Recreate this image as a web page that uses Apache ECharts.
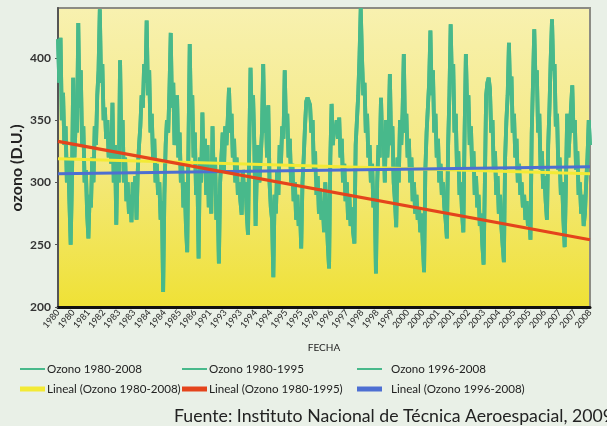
<!DOCTYPE html>
<html><head><meta charset="utf-8">
<script src="https://cdn.jsdelivr.net/npm/echarts@6/dist/echarts.min.js"></script>
<style>html,body{margin:0;padding:0;background:#e9f0e7;}#c{width:607px;height:426px;}</style>
</head><body><div id="c"></div>
<script>
// x-axis tick labels (one every 12 data points)
const tickLabels = ['1980','1980','1981','1982','1983','1983','1984','1984','1985','1986',
  '1991','1993','1993','1994','1994','1995','1995','1996','1996','1997',
  '1998','1998','1999','2000','2000','2001','2001','2002','2003','2004',
  '2005','2005','2006','2007','2007','2008'];
const pointsPerTick = 12;

// Ozone values (D.U.)
const ozone = [
  415,380,416,350,372,330,345,300,320,285,
  250,300,384,320,350,340,428,360,390,330,
  345,300,310,275,255,290,280,320,300,345,
  330,370,390,439,380,395,350,360,335,350,
  320,340,315,364,300,330,266,320,300,398,
  330,350,300,320,285,300,275,290,268,300,
  285,305,270,310,330,345,370,360,395,380,
  430,370,390,340,355,320,335,300,315,290,
  300,270,285,212,290,330,350,340,375,420,
  360,380,330,350,370,320,340,300,315,280,
  300,265,244,330,411,350,370,320,340,290,
  310,239,320,300,356,310,335,290,330,280,
  300,275,345,300,320,270,290,235,300,320,
  340,310,345,330,350,376,340,355,320,335,
  300,320,290,300,285,274,310,290,300,275,
  258,330,392,350,370,330,265,310,330,300,
  320,340,395,340,360,320,362,300,280,270,
  224,290,275,310,290,330,315,345,335,390,
  345,355,320,335,300,315,285,300,270,290,
  265,280,247,300,320,345,365,368,368,362,
  340,350,310,325,290,305,275,295,270,285,
  260,300,275,250,231,320,363,330,345,340,
  350,335,352,320,335,300,315,285,300,270,
  290,265,280,260,251,330,350,370,400,440,
  400,370,380,340,355,320,330,300,315,280,
  290,227,300,330,320,368,330,340,300,350,
  320,340,387,330,345,300,285,264,320,300,
  350,330,355,403,340,355,320,335,300,320,
  285,300,275,290,270,280,260,275,250,228,
  310,340,360,380,422,370,390,340,355,320,
  335,300,315,290,300,280,270,255,330,370,
  427,380,395,340,355,310,325,290,300,275,
  260,340,403,360,370,330,345,310,325,290,
  305,280,290,265,275,250,234,300,370,380,
  384,375,340,350,310,325,290,305,275,290,
  265,250,236,320,350,370,412,370,385,340,
  355,320,335,300,315,290,300,280,290,270,
  285,265,275,254,340,380,423,380,390,340,
  355,310,325,295,305,285,270,330,360,400,
  431,390,395,345,355,310,320,290,300,270,
  248,300,355,320,340,360,378,340,350,310,
  325,290,300,275,290,265,275,300,320,350,
  330
];
const split1996 = 204; // first data point of 1996

// Linear trend lines: [value at start, value at end]
const trend1980_2008 = [319, 307];
const trend1980_1995 = [333, 254];
const trend1996_2008 = [307, 312.5];

const categories = ozone.map((v, i) => 'p' + i);
const last = ozone.length - 1;
const oz8095 = ozone.map((v, i) => i < split1996 ? v : null);
const oz9608 = ozone.map((v, i) => i >= split1996 ? v : null);

const GREEN = '#48b98b', YELLOW = '#f3ea35', RED = '#e4441c', BLUE = '#4d6fd2';
const TXT = '#222';
const FONT = 'Lato, sans-serif';

const chart = echarts.init(document.getElementById('c'), null, {renderer: 'canvas'});

function lineSeries(name, data, color, width, z) {
  return {name, type: 'line', data, showSymbol: false, symbol: 'none', z,
    lineStyle: {color, width}, itemStyle: {color}, connectNulls: false, animation: false};
}
function legendAt(name, left, top, h, textShift) {
  return {data: [name], left, top, icon: 'rect', itemWidth: 25, itemHeight: h,
    selectedMode: false, padding: 0,
    textStyle: {color: TXT, fontSize: 11.6, fontFamily: FONT, padding: [0, 0, 0, textShift]}};
}

chart.setOption({
  backgroundColor: '#e9f0e7',
  animation: false,
  grid: {left: 58, right: 17, top: 8, bottom: 119, show: true,
    borderColor: '#8c8c84', borderWidth: 2,
    backgroundColor: new echarts.graphic.LinearGradient(0, 0, 0, 1, [
      {offset: 0, color: '#f8f1b0'}, {offset: 0.5, color: '#f4e982'}, {offset: 1, color: '#efe135'}])},
  xAxis: {
    type: 'category', data: categories, boundaryGap: false,
    name: 'FECHA', nameLocation: 'middle', nameGap: 36,
    nameTextStyle: {color: TXT, fontSize: 10, fontFamily: FONT},
    axisLine: {lineStyle: {color: '#111', width: 3}},
    axisTick: {show: false},
    axisLabel: {interval: pointsPerTick - 1, rotate: 50, fontSize: 9, color: TXT, margin: 4,
      fontFamily: FONT,
      formatter: (v, i) => tickLabels[Math.round(i / pointsPerTick)] || ''}
  },
  yAxis: {
    type: 'value', min: 200, max: 440, interval: 50,
    axisLine: {show: true, lineStyle: {color: '#555', width: 2}},
    axisTick: {show: true, length: 3, lineStyle: {color: '#555'}},
    axisLabel: {color: '#333', fontSize: 12, fontWeight: 'bold', margin: 7, showMaxLabel: false,
      fontFamily: FONT},
    splitLine: {show: false}
  },
  legend: [
    legendAt('Ozono 1980-2008', 20, 363, 2, -3),
    legendAt('Ozono 1980-1995', 182, 363, 2, -3),
    legendAt('Ozono 1996-2008', 357, 363, 2, 4),
    legendAt('Lineal (Ozono 1980-2008)', 20, 383, 5, -3),
    legendAt('Lineal (Ozono 1980-1995)', 182, 383, 5, -3),
    legendAt('Lineal (Ozono 1996-2008)', 357, 383, 5, 4)
  ],
  graphic: [
    {type: 'text', x: 17, y: 168, rotation: Math.PI / 2,
      style: {text: 'ozono (D.U.)', fill: TXT, font: 'bold 16px ' + FONT,
        align: 'center', verticalAlign: 'middle'}},
    {type: 'text', left: 174, top: 407,
      style: {text: 'Fuente: Instituto Nacional de Técnica Aeroespacial, 2009', fill: TXT,
        font: '17.7px ' + FONT}}],
  series: [
    lineSeries('Ozono 1980-2008', ozone, GREEN, 3.8, 2),
    lineSeries('Ozono 1980-1995', oz8095, GREEN, 3.8, 2),
    lineSeries('Ozono 1996-2008', oz9608, GREEN, 3.8, 2),
    lineSeries('Lineal (Ozono 1980-2008)', [[0, trend1980_2008[0]], [last, trend1980_2008[1]]], YELLOW, 3, 5),
    lineSeries('Lineal (Ozono 1980-1995)', [[0, trend1980_1995[0]], [last, trend1980_1995[1]]], RED, 3.2, 6),
    lineSeries('Lineal (Ozono 1996-2008)', [[0, trend1996_2008[0]], [last, trend1996_2008[1]]], BLUE, 3, 5)
  ]
});
</script></body></html>
